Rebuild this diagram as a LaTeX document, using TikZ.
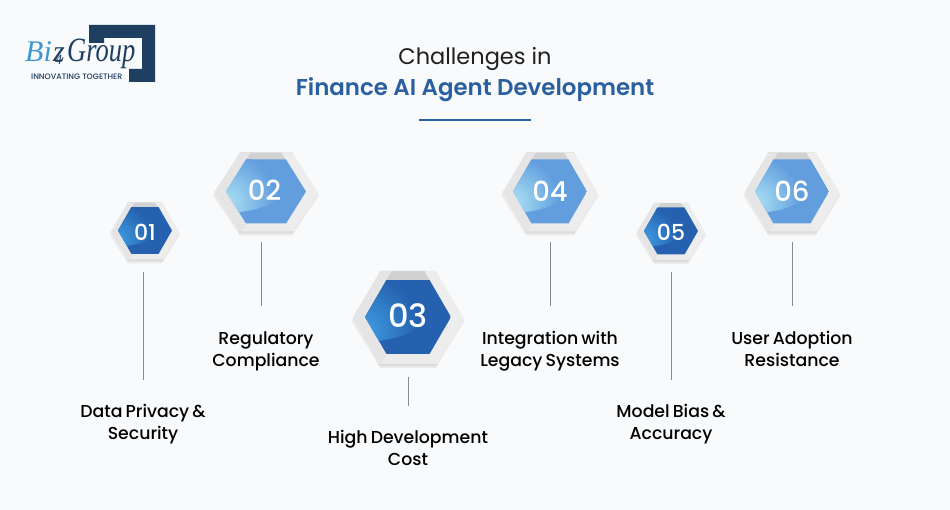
\documentclass[tikz,border=0pt]{standalone}
\usepackage{fontspec}
\setmainfont{Poppins}
\newfontfamily\popmed{Poppins Medium}
\newfontfamily\popnum{Poppins Medium}
\newfontfamily\popsemi{Poppins SemiBold}
\newfontfamily\logoserif{Liberation Serif}
\newcommand{\lblfont}{\popmed\fontsize{17.3}{22}\selectfont\setlength{\spaceskip}{0.18em}}
\definecolor{bgc}{HTML}{F8FAFC}
\definecolor{titleblue}{HTML}{2A609F}
\definecolor{logodark}{HTML}{1F3F60}
\definecolor{logoblue}{HTML}{3E96D2}
\definecolor{linegray}{HTML}{8A8A8A}
\definecolor{deepbase}{HTML}{2561AE}
\definecolor{deeplight}{HTML}{3F9CE2}
\definecolor{softbase}{HTML}{629EDE}
\definecolor{softlight}{HTML}{ABE2F4}
\tikzset{
  x=1pt,y=-1pt,
  conn/.style={draw=linegray,line width=0.8pt},
  lbl/.style={font=\lblfont,align=center,text=black,inner sep=0pt},
  numtxt/.style={text=white,inner sep=0pt},
  logotxt/.style={anchor=base west,inner sep=0pt,text=logodark},
}
% #1 name #2 cx #3 cy #4 outer hw #5 outer hh #6 inner hw #7 inner hh #8 base #9 light
\newcommand{\hexbadge}[9]{%
  \begin{scope}[shift={(#2,#3)}]
    \fill[black!8] (-#4-1,3) -- (-#4/2,3+#5) -- (#4/2,3+#5) -- (#4+1,3) -- (#4/2,3-#5+1) -- (-#4/2,3-#5+1) -- cycle;
    \fill[black!18] (-#4/2,-#5) -- (#4/2,-#5) -- (#4*.72,-#5*.5) -- (-#4*.72,-#5*.5) -- cycle;
    \fill[black!10] (-#4,0) -- (-#4/2,-#5) -- (-#4*.3,-#5) -- (-#6,0) -- (-#6*.5,#7) -- (-#4*.5,#5) -- cycle;
    \fill[black!7] (#4,0) -- (#4/2,-#5) -- (#4*.3,-#5) -- (#6,0) -- (#6*.5,#7) -- (#4*.5,#5) -- cycle;
    \fill[black!14] (-#4*.55,#5-1) -- (#4*.55,#5-1) -- (#4*.5,#5+1) -- (-#4*.5,#5+1) -- cycle;
    \begin{scope}
      \clip (-#6,-1) -- (-#6/2,-#7-1) -- (#6/2,-#7-1) -- (#6,-1) -- (#6/2,#7-1) -- (-#6/2,#7-1) -- cycle;
      \fill[#8] (-#6,-#7-1) rectangle (#6,#7);
      \clip (-#6-1,-#7-2) -- (-#6-1,#7*.68) -- (-#6*.7,#7*.62)
        .. controls (-#6*.25,#7*.55) and (#6*.2,#7*.4) .. (#6*.6,0) -- (#6+1,-#7-2) -- cycle;
      \shade[inner color=#9,outer color=#8] (-#6,#7*.3) circle[radius=#6*1.25];
    \end{scope}
  \end{scope}}
\begin{document}
\begin{tikzpicture}
\useasboundingbox (0,0) rectangle (950,510);
\fill[bgc] (0,0) rectangle (950,510);
% logo
\fill[logodark] (89,25) -- (155,25) -- (155,82) -- (129,82) -- (129,69) -- (142,69) -- (142,38) -- (104,38) -- (104,43) -- (89,43) -- cycle;
\node[logotxt,text=logoblue,font=\logoserif\itshape\fontsize{30}{30}\selectfont] (logoa) at (25,62) {Bi};
\node[logotxt,font=\logoserif\itshape\fontsize{30}{30}\selectfont] (logob) at (53,62) {z};
\node[logotxt,font=\logoserif\itshape\fontsize{14}{14}\selectfont] (logoc) at (55,65) {4};
\node[logotxt,xscale=.78,font=\logoserif\itshape\fontsize{34}{34}\selectfont] (logod) at (67,62) {Group};
\node[logotxt,font=\popnum\fontsize{7.9}{8}\selectfont] (logoe) at (31,79.5) {INNOVATING TOGETHER};
% title
\node[inner sep=0pt,font=\fontsize{22.5}{28}\selectfont,text=black!88] (t1) at (475,59) {Challenges in};
\node[inner sep=0pt,font=\popsemi\fontsize{22.9}{28}\selectfont,text=titleblue] (t2) at (475,90) {Finance AI Agent Development};
\coordinate (ra) at (419,120);
\coordinate (rb) at (531,120);
\draw[titleblue,line width=1.2pt] (ra) -- (rb);
% badges
\hexbadge{n1}{145}{231.5}{34}{29}{27}{23.5}{deepbase}{deeplight}
\hexbadge{n2}{266}{192.5}{52}{40}{40}{32}{softbase}{softlight}
\hexbadge{n3}{408}{318}{55.5}{47}{43}{37}{deepbase}{deeplight}
\hexbadge{n4}{550}{192.5}{47.5}{40}{37}{32}{softbase}{softlight}
\hexbadge{n5}{671}{232}{34}{29}{27}{23.5}{deepbase}{deeplight}
\hexbadge{n6}{792}{192.5}{47.5}{40}{37}{32}{softbase}{softlight}
\node[numtxt,font=\popnum\fontsize{22}{24}\selectfont] (n1) at (145,232) {01};
\node[numtxt,font=\popnum\fontsize{27.5}{30}\selectfont] (n2) at (264.5,190.5) {02};
\node[numtxt,font=\popnum\fontsize{32}{34}\selectfont] (n3) at (408,316) {03};
\node[numtxt,font=\popnum\fontsize{27.5}{30}\selectfont] (n4) at (550,191) {04};
\node[numtxt,font=\popnum\fontsize{22}{24}\selectfont] (n5) at (671,232) {05};
\node[numtxt,font=\popnum\fontsize{27.5}{30}\selectfont] (n6) at (792,191) {06};
% labels
\node[lbl] (l1) at (143,424) {Data Privacy \&\\Security};
\node[lbl] (l2) at (266,351) {Regulatory\\Compliance};
\node[lbl] (l3) at (408,448) {High Development\\Cost};
\node[lbl] (l4) at (550,351) {Integration with\\Legacy Systems};
\node[lbl] (l5) at (671,424) {Model Bias \&\\Accuracy};
\node[lbl] (l6) at (792,349) {User Adoption\\Resistance};
% connectors
\coordinate (a1) at (143,272); \coordinate (b1) at (143,380);
\coordinate (a2) at (261,242); \coordinate (b2) at (261,306);
\coordinate (a3) at (408,377); \coordinate (b3) at (408,406);
\coordinate (a4) at (550,242); \coordinate (b4) at (550,306);
\coordinate (a5) at (671,272); \coordinate (b5) at (671,380);
\coordinate (a6) at (792,242); \coordinate (b6) at (792,306);
\foreach \i in {1,...,6} {\draw[conn] (a\i) -- (b\i);}
\end{tikzpicture}
\end{document}
